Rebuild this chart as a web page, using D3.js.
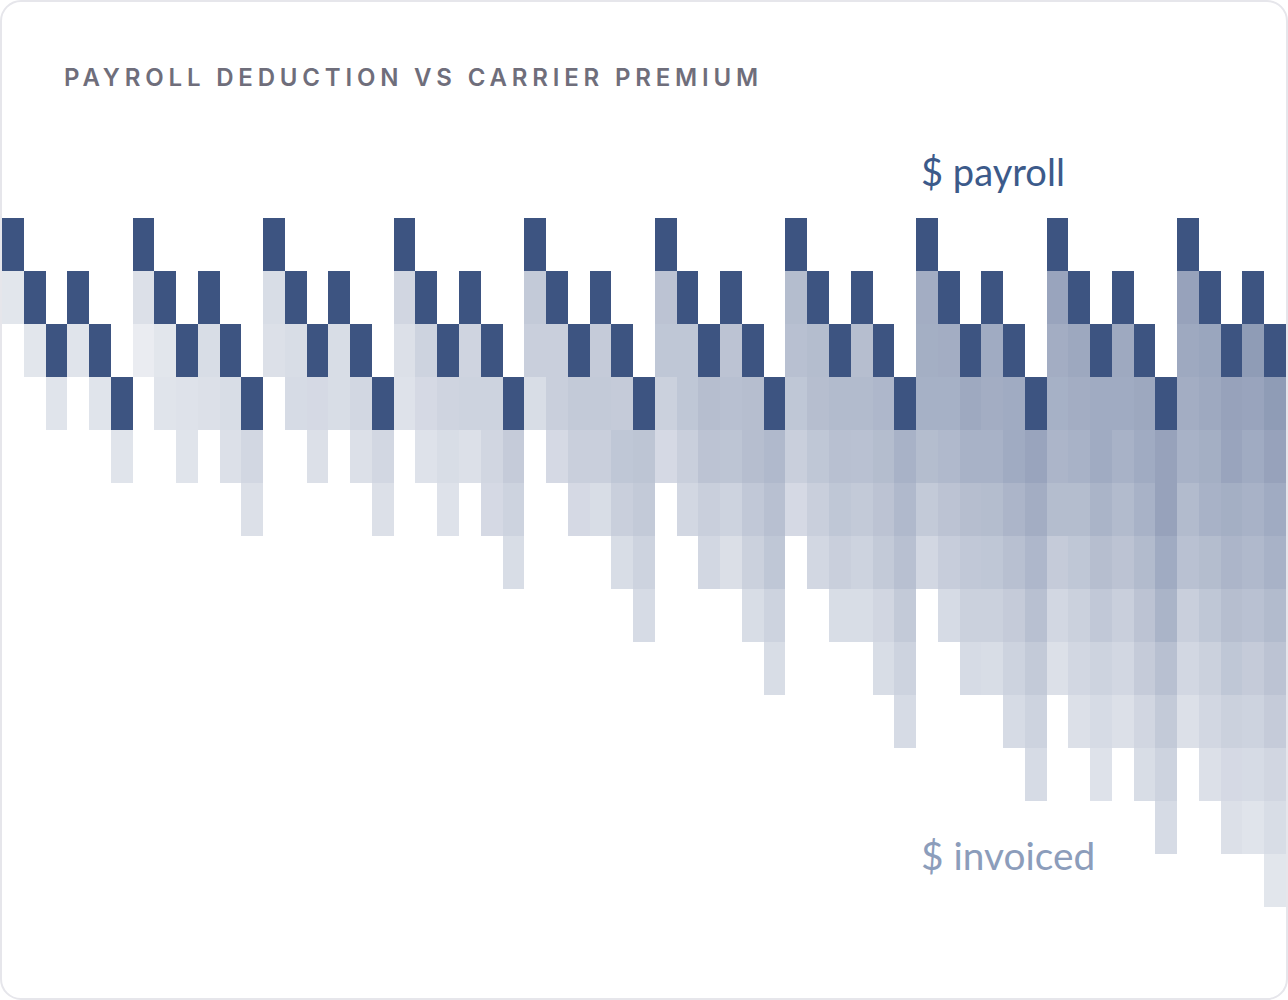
<!DOCTYPE html>
<html>
<head>
<meta charset="utf-8">
<script src="https://cdn.jsdelivr.net/npm/d3@7/dist/d3.min.js"></script>
<style>
  html, body { margin: 0; padding: 0; background: #ffffff; }
  svg { display: block; }
</style>
</head>
<body>
<svg id="chart" width="1288" height="1000"></svg>
<script>
// ---------------- data ----------------
const chartTitle = "PAYROLL DEDUCTION VS CARRIER PREMIUM";
const seriesLabels = ["$ payroll", "$ invoiced"];
const rowLevels = [0, 1, 2, 3, 4, 5, 6, 7, 8, 9, 10, 11, 12];

// row of the payroll (dark) cell in each column
const payrollRow = [
  0,1,2,1,2,3, 0,1,2,1,2,3, 0,1,2,1,2,3, 0,1,2,1,2,3, 0,1,2,1,2,3,
  0,1,2,1,2,3, 0,1,2,1,2,3, 0,1,2,1,2,3, 0,1,2,1,2,3, 0,1,2,1,2
];

// invoiced shading (percent) of the cells stacked under each payroll cell
const invoicedShade = [
  [15], [15], [16], [16], [16], [16],
  [18, 11], [15, 16], [17, 16], [20, 18], [20, 18], [23, 18],
  [20, 18], [20, 21], [22, 18], [20, 20], [23, 18], [23, 18],
  [24, 18, 17], [26, 22, 17], [25, 20, 17], [25, 26, 18], [26, 24, 22], [30, 26, 20],
  [31, 28, 20], [28, 28, 22], [31, 28, 22], [30, 31, 28, 20], [30, 33, 28, 20], [34, 31, 26, 21],
  [35, 33, 27, 22], [33, 33, 28, 23], [38, 35, 28, 23], [35, 37, 34, 26, 19], [38, 38, 32, 27, 20], [41, 37, 33, 26, 20],
  [39, 37, 33, 28, 22], [39, 38, 33, 28, 23], [40, 37, 33, 28, 20], [38, 40, 36, 31, 26, 20], [42, 39, 35, 31, 24, 20], [45, 41, 37, 31, 26, 21],
  [48, 47, 46, 39, 31, 23], [48, 46, 41, 35, 29, 21], [50, 45, 38, 32, 27, 21], [49, 48, 45, 39, 33, 27, 20], [49, 49, 43, 37, 30, 26, 21], [53, 48, 42, 37, 31, 26, 21],
  [53, 48, 46, 43, 39, 30, 23, 18], [51, 48, 45, 39, 33, 27, 23, 18], [49, 49, 44, 38, 32, 26, 21, 17], [50, 49, 45, 40, 35, 28, 23, 18], [51, 49, 45, 40, 35, 30, 24, 20], [54, 54, 49, 44, 37, 31, 26, 21],
  [54, 50, 48, 45, 40, 36, 28, 23, 18], [52, 50, 47, 45, 39, 33, 27, 23, 18], [54, 53, 47, 43, 38, 33, 27, 22, 18],
  [58, 53, 49, 45, 41, 36, 30, 26, 21, 16], [58, 54, 49, 45, 40, 35, 30, 24, 20, 15]
];

// ---------------- drawing ----------------
const W = 1288, H = 1000;
const svg = d3.select("#chart");

const defs = svg.append("defs");
defs.append("clipPath").attr("id", "card-clip")
  .append("rect").attr("x", 1).attr("y", 1).attr("width", W - 2).attr("height", H - 2).attr("rx", 20);

svg.append("rect")
  .attr("x", 1).attr("y", 1).attr("width", W - 2).attr("height", H - 2).attr("rx", 20)
  .attr("fill", "#ffffff").attr("stroke", "#e6e6eb").attr("stroke-width", 2);

const columns = payrollRow.map((_, i) => i);
const x = d3.scaleBand().domain(columns).range([2, 1286]).padding(0);
const y = d3.scaleBand().domain(rowLevels).range([218, 218 + 53 * rowLevels.length]).padding(0);

const plot = svg.append("g").attr("clip-path", "url(#card-clip)");

const invoicedCells = columns.flatMap(i =>
  invoicedShade[i].map((s, k) => ({ col: i, row: payrollRow[i] + 1 + k, alpha: s / 100 }))
);

plot.append("g").selectAll("rect")
  .data(invoicedCells)
  .join("rect")
  .attr("x", d => x(d.col))
  .attr("y", d => y(d.row))
  .attr("width", x.bandwidth())
  .attr("height", y.bandwidth())
  .attr("fill", "#3e5482")
  .attr("fill-opacity", d => d.alpha)
  .attr("shape-rendering", "crispEdges");

plot.append("g").selectAll("rect")
  .data(columns)
  .join("rect")
  .attr("x", i => x(i))
  .attr("y", i => y(payrollRow[i]))
  .attr("width", x.bandwidth())
  .attr("height", y.bandwidth())
  .attr("fill", "#3d5481")
  .attr("shape-rendering", "crispEdges");

// title with letter-spacing fitted to its width
const titleEl = svg.append("text")
  .attr("x", 64).attr("y", 86)
  .attr("font-family", "Inter, Lato, sans-serif")
  .attr("font-weight", 600)
  .attr("font-size", 24)
  .attr("fill", "#6f6e7b")
  .text(chartTitle);
const natural = titleEl.node().getComputedTextLength();
const ls = (694 - natural) / (chartTitle.length - 1);
titleEl.attr("letter-spacing", ls.toFixed(2));

// series labels, each fitted to its width in the reference
const labelFont = "Lato, 'Open Sans', sans-serif";
function fitLabel(text, xPos, yPos, color, targetW) {
  const el = svg.append("text")
    .attr("x", xPos).attr("y", yPos)
    .attr("font-family", labelFont)
    .attr("font-weight", 400)
    .attr("font-size", 38)
    .attr("fill", color)
    .text(text);
  const w = el.node().getComputedTextLength();
  el.attr("font-size", (38 * targetW / w).toFixed(1));
  return el;
}
fitLabel(seriesLabels[0], 921, 186, "#3c5a8a", 144);
fitLabel(seriesLabels[1], 921, 870, "#8c9dbb", 174);
</script>
</body>
</html>
